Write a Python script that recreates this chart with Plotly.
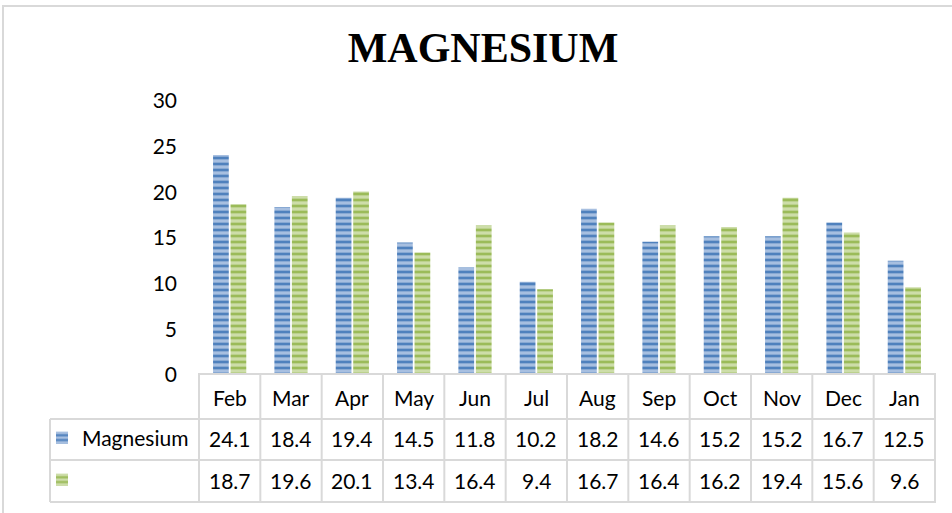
import plotly.graph_objects as go

months = ['Feb', 'Mar', 'Apr', 'May', 'Jun', 'Jul', 'Aug', 'Sep', 'Oct', 'Nov', 'Dec', 'Jan']
magnesium = [24.1, 18.4, 19.4, 14.5, 11.8, 10.2, 18.2, 14.6, 15.2, 15.2, 16.7, 12.5]
second = [18.7, 19.6, 20.1, 13.4, 16.4, 9.4, 16.7, 16.4, 16.2, 19.4, 15.6, 9.6]
y_ticks = [0, 5, 10, 15, 20, 25, 30]

W, H = 952, 513
def px(x): return x / W
def py(y): return 1 - y / H

FONT = 'Lato, Liberation Sans, sans-serif'
GRID = '#d9d9d9'

fig = go.Figure()
fig.add_bar(x=months, y=magnesium, name='Magnesium', legend='legend',
            marker=dict(color='#a7bfe0', line=dict(width=0),
                        pattern=dict(shape='-', fgcolor='#4f81bd', bgcolor='#a7bfe0',
                                     size=6, solidity=0.45, fillmode='replace')))
fig.add_bar(x=months, y=second, name=' ', legend='legend2',
            marker=dict(color='#cddda9', line=dict(width=0),
                        pattern=dict(shape='-', fgcolor='#9bbb59', bgcolor='#cddda9',
                                     size=6, solidity=0.45, fillmode='replace')))

# data table below the plot
shapes = []
for i in range(len(months) + 1):
    shapes.append(dict(type='line', xref='x', yref='paper', x0=i - 0.5, x1=i - 0.5,
                       y0=py(373), y1=py(502), line=dict(color=GRID, width=2)))
shapes.append(dict(type='line', xref='paper', yref='paper', x0=px(50), x1=px(50),
                   y0=py(419), y1=py(502), line=dict(color=GRID, width=2)))
shapes.append(dict(type='line', xref='paper', yref='paper', x0=px(198), x1=px(936),
                   y0=py(374), y1=py(374), line=dict(color=GRID, width=2)))
for yy in [419, 460, 502]:
    shapes.append(dict(type='line', xref='paper', yref='paper', x0=px(50), x1=px(936),
                       y0=py(yy), y1=py(yy), line=dict(color=GRID, width=2)))
# outer chart border
shapes.append(dict(type='rect', xref='paper', yref='paper', x0=px(3), x1=1.02,
                   y0=-0.02, y1=py(6), line=dict(color=GRID, width=2)))

annotations = []
for m, a, b in zip(months, magnesium, second):
    for txt, yy in [(m, 397), (f'{a:.1f}', 438), (f'{b:.1f}', 480)]:
        annotations.append(dict(x=m, xref='x', y=py(yy), yref='paper', text=txt,
                                showarrow=False, xanchor='center', yanchor='middle',
                                font=dict(family=FONT, size=21, color='#000')))

fig.update_layout(
    width=W, height=H,
    margin=dict(l=0, r=0, t=0, b=0, autoexpand=False),
    paper_bgcolor='white', plot_bgcolor='white',
    showlegend=True,
    title=dict(text='<b>MAGNESIUM</b>', x=px(483), xref='paper', xanchor='center',
               y=py(47), yref='paper', yanchor='middle',
               font=dict(family='Liberation Serif, serif', size=42, color='#000')),
    barmode='group', bargap=0.43, bargroupgap=0.1,
    xaxis=dict(domain=[px(198), px(936)], showticklabels=False, showline=False,
               showgrid=False, zeroline=False, fixedrange=True),
    yaxis=dict(domain=[py(375), py(101)], range=[0, 30], tickvals=y_ticks,
               showgrid=False, zeroline=False, showline=False, ticks='',
               ticklabelstandoff=20,
               tickfont=dict(family=FONT, size=21, color='#000')),
    legend=dict(x=px(42), y=py(438), xanchor='left', yanchor='middle',
                bgcolor='rgba(0,0,0,0)', font=dict(family=FONT, size=21, color='#000')),
    legend2=dict(x=px(42), y=py(480), xanchor='left', yanchor='middle',
                 bgcolor='rgba(0,0,0,0)', font=dict(family=FONT, size=21, color='#000')),
    shapes=shapes,
    annotations=annotations,
)

fig.write_html('out.html', config={'displayModeBar': False},
               post_script="document.body.style.margin='0';")
